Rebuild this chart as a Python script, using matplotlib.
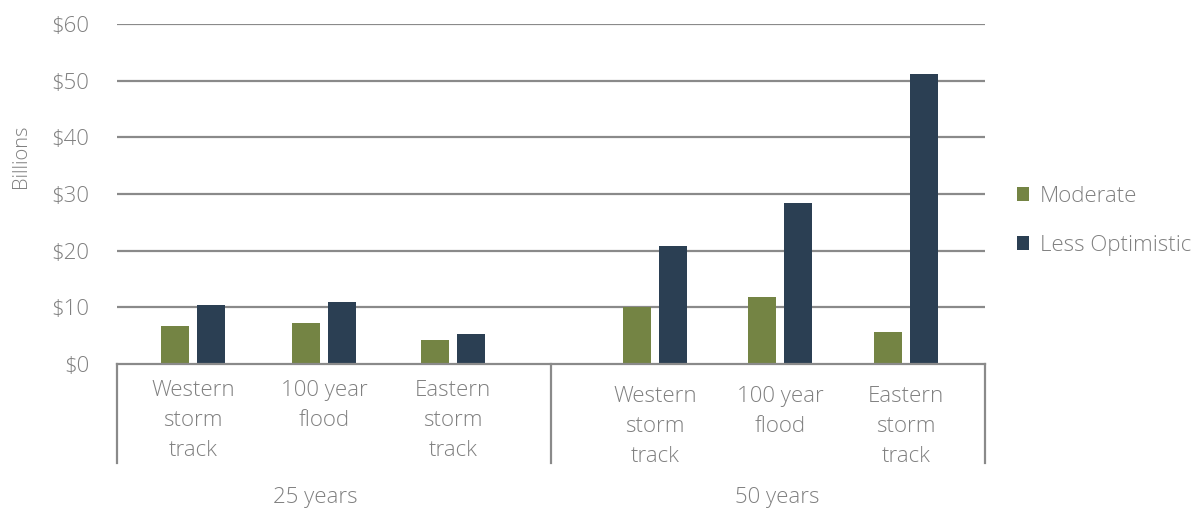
import matplotlib
matplotlib.use("Agg")
import matplotlib.pyplot as plt
import matplotlib.transforms as mtransforms

# ---- data ----
groups = ["25 years", "50 years"]
categories = ["Western\nstorm\ntrack", "100 year\nflood", "Eastern\nstorm\ntrack"]
series = ["Moderate", "Less Optimistic"]
moderate = [6.7, 7.2, 4.2, 10.1, 11.9, 5.6]
less_optimistic = [10.4, 10.9, 5.3, 20.8, 28.4, 51.2]
yticks = [0, 10, 20, 30, 40, 50, 60]
ytick_labels = ["$0", "$10", "$20", "$30", "$40", "$50", "$60"]

# ---- layout (pixel based) ----
W, H = 1204, 509
x0, x1 = 117, 985
ybase, ytop = 364, 24
centers = [193, 324, 453, 655, 780, 906]
group_edges = [117, 551, 985]
group_label_x = [315, 777]
label_top = [380, 386]
bar_w = 28
off = 18
FS = 16

green = "#748444"
navy = "#2b3f53"
grey_txt = "#808080"
grid_c = "#8a8a8a"

plt.rcParams['font.family'] = ['Open Sans', 'DejaVu Sans']
fig = plt.figure(figsize=(W / 100, H / 100), dpi=100)
ax = fig.add_axes([x0 / W, (H - ybase) / H, (x1 - x0) / W, (ybase - ytop) / H])
ax.set_xlim(x0, x1)
ax.set_ylim(0, 60)

ax.bar([c - off for c in centers], moderate, width=bar_w, color=green, label=series[0], zorder=3)
ax.bar([c + off for c in centers], less_optimistic, width=bar_w, color=navy, label=series[1], zorder=3)

for y in yticks[1:]:
    ax.axhline(y, color=grid_c, lw=1.6, zorder=1)

for s in ax.spines.values():
    s.set_visible(False)
ax.set_xticks([])
ax.set_yticks(yticks)
ax.set_yticklabels(ytick_labels, fontsize=FS, color=grey_txt, fontweight='light')
ax.tick_params(axis='y', length=0, pad=20)
ax.set_ylabel("Billions", fontsize=14.5, color=grey_txt, fontweight='light')
ax.yaxis.set_label_coords(-0.099, 0.61)

trans = mtransforms.blended_transform_factory(ax.transData, ax.transAxes)
ph = ybase - ytop
def ay(py):
    return (ybase - py) / ph

ax.plot([x0, x1], [0, 0], color=grid_c, lw=1.6, transform=trans, clip_on=False, zorder=4)
for gx in group_edges:
    ax.plot([gx, gx], [0, ay(463)], color=grid_c, lw=1.6, transform=trans, clip_on=False)

for i, c in enumerate(centers):
    g = i // 3
    ax.text(c, ay(label_top[g]), categories[i % 3], transform=trans, ha='center', va='top',
            fontsize=FS, color=grey_txt, fontweight='light', linespacing=1.55)

for g, gx in enumerate(group_label_x):
    ax.text(gx, ay(497 + g), groups[g], transform=trans, ha='center', va='center',
            fontsize=FS, color=grey_txt, fontweight='light')

leg = fig.legend(loc='upper left', bbox_to_anchor=(1008 / W, 1 - 177 / H), frameon=False,
                 fontsize=FS, handlelength=0.55, handleheight=0.55, handletextpad=0.5,
                 labelspacing=1.25, borderaxespad=0)
for t in leg.get_texts():
    t.set_color(grey_txt)
    t.set_fontweight('light')

fig.savefig("out.png", dpi=100)
